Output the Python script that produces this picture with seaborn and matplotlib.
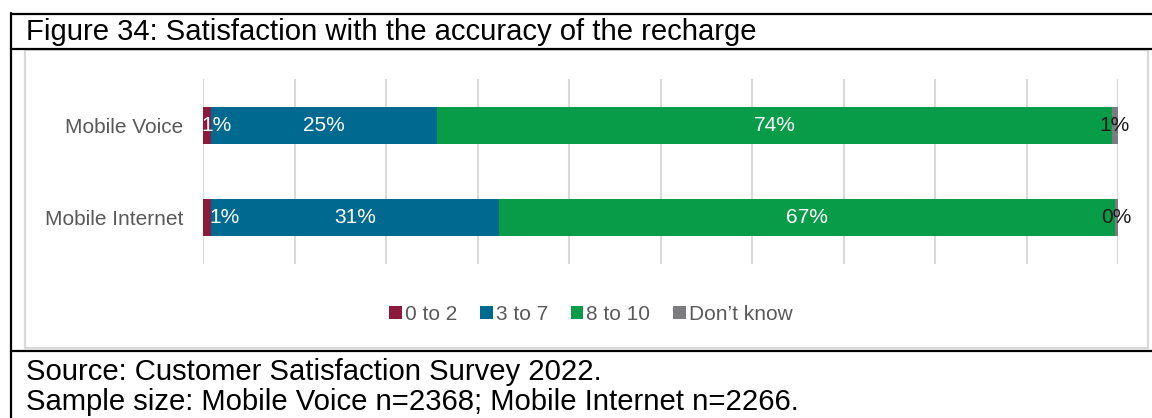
import matplotlib
matplotlib.use("Agg")
import matplotlib.pyplot as plt
from matplotlib.lines import Line2D
from matplotlib.patches import Rectangle, Patch
import numpy as np
import pandas as pd
import seaborn as sns

# data
categories = ["Mobile Voice", "Mobile Internet"]
series = ["0 to 2", "3 to 7", "8 to 10", "Don\u2019t know"]
v_0_2 = [0.9, 0.9]
v_3_7 = [24.7, 31.4]
v_8_10 = [73.7, 67.4]
v_dk = [0.7, 0.3]
labels_0_2 = ["1%", "1%"]
labels_3_7 = ["25%", "31%"]
labels_8_10 = ["74%", "67%"]
labels_dk = ["1%", "0%"]

colors = ["#8C1A3C", "#006990", "#089B48", "#7B7B80"]
label_colors = ["white", "white", "white", "#1A1A1A"]
# the tiny first segment has its label nudged right (in pixels), as in the original
small_label_shift = [9, 17]

W, H = 1152, 418
sns.set_theme(style="white")
plt.rcParams["font.family"] = ["Liberation Sans", "DejaVu Sans"]

fig = plt.figure(figsize=(W / 100, H / 100), dpi=100)
fig.patch.set_facecolor("white")

def fx(px):
    return px / W

def fy(py):
    return 1 - py / H

# frame lines around the figure block
for (x0, y0, x1, y1) in [(11, 13, 11, 418), (11, 14, W, 14), (11, 48.5, W, 48.5), (11, 351, W, 351)]:
    fig.add_artist(Line2D([fx(x0), fx(x1)], [fy(y0), fy(y1)], color="black", lw=1.6,
                          transform=fig.transFigure))
fig.add_artist(Rectangle((fx(25), fy(348)), fx(1148) - fx(25), fy(50) - fy(348),
                         fill=False, edgecolor="#D9D9D9", lw=1.6, transform=fig.transFigure))

fig.text(fx(26), fy(32), "Figure 34: Satisfaction with the accuracy of the recharge",
         fontsize=21.1, va="center", ha="left", color="black")
fig.text(fx(26), fy(372), "Source: Customer Satisfaction Survey 2022.",
         fontsize=21.1, va="center", ha="left", color="black")
fig.text(fx(26), fy(402), "Sample size: Mobile Voice n=2368; Mobile Internet n=2266.",
         fontsize=21.1, va="center", ha="left", color="black")

ax = fig.add_axes([fx(203), fy(264), fx(1118) - fx(203), fy(79) - fy(264)])

values = [v_0_2, v_3_7, v_8_10, v_dk]
texts = [labels_0_2, labels_3_7, labels_8_10, labels_dk]
cum = np.cumsum(np.array(values), axis=0)

# stacked bars: draw cumulative totals from the top layer down
for i in range(len(series) - 1, -1, -1):
    df = pd.DataFrame({"cat": categories, "val": cum[i]})
    sns.barplot(data=df, x="val", y="cat", orient="h", color=colors[i],
                width=0.4, linewidth=0, saturation=1, ax=ax, zorder=3)

for i in range(len(series)):
    for j in range(len(categories)):
        start = cum[i][j] - values[i][j]
        shift = small_label_shift[j] * 0.72 if i == 0 else 0
        ax.annotate(texts[i][j], (start + values[i][j] / 2, j), xytext=(shift, 0),
                    textcoords="offset points", ha="center", va="center",
                    fontsize=15, color=label_colors[i], zorder=5)

ax.set_xlim(0, 100)
ax.set_ylim(1.5, -0.5)
ax.set_xticks(np.arange(0, 101, 10))
ax.set_xticklabels([])
ax.grid(axis="x", color="#D9D9D9", lw=1.5, zorder=0)
ax.grid(axis="y", visible=False)
ax.set_axisbelow(True)
for s in ax.spines.values():
    s.set_visible(False)
ax.set_xlabel("")
ax.set_ylabel("")
ax.tick_params(axis="y", length=0, pad=14.4, labelsize=15, labelcolor="#595959")
ax.tick_params(axis="x", length=0)
ax.set_facecolor("none")

handles = [Patch(facecolor=c, edgecolor="none") for c in colors]
leg = fig.legend(handles, series, loc="center", bbox_to_anchor=(fx(591), fy(314)), ncol=4,
                 frameon=False, fontsize=15, handlelength=0.6, handleheight=0.6,
                 handletextpad=0.15, columnspacing=1.1)
for t in leg.get_texts():
    t.set_color("#595959")

fig.savefig("out.png", dpi=100)
